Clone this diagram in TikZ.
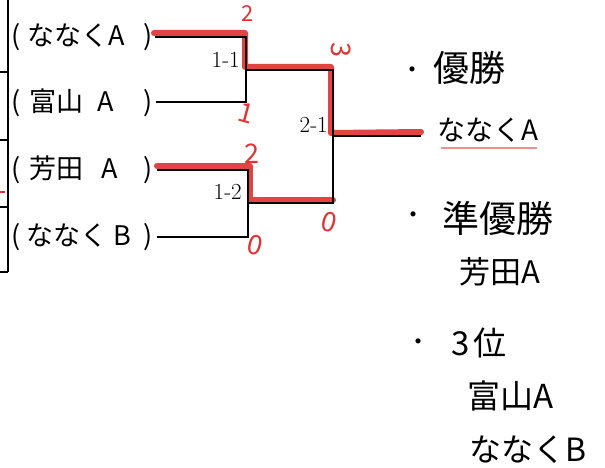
\documentclass[tikz,border=0pt]{standalone}
\usepackage{fontspec}
\newfontfamily\jp{Noto Sans CJK JP}
\definecolor{penred}{RGB}{224,52,52}
\begin{document}
\begin{tikzpicture}[x=1pt,y=-1pt,
  bline/.style={line width=2.8pt,black,line cap=butt},
  rline/.style={line width=6pt,penred,line join=round,line cap=round,opacity=.92},
  rowlab/.style={font=\jp\fontsize{27}{27}\selectfont,inner sep=0pt,anchor=west},
  hand/.style={font=\jp\fontsize{#1}{#1}\selectfont,inner sep=0pt,anchor=west},
  score/.style={font=\jp\fontsize{27}{27}\selectfont,text=penred,inner sep=0pt},
  matchlab/.style={font=\fontsize{23}{23}\selectfont,inner sep=0pt,anchor=east},
  dotlab/.style={font=\jp\fontsize{24}{24}\selectfont,inner sep=0pt}]
\useasboundingbox (0,0) rectangle (605,468);
% left table remnant
\coordinate (tl) at (8,0);
\coordinate (tb) at (8,272);
\draw[line width=1.8pt] (tl) -- (tb);
\foreach \yy/\nm in {72/a,140/b,207/c,272/d}{
  \coordinate (h\nm) at (0,\yy);
  \draw[line width=1.8pt] (h\nm) -- (8,\yy);
}
\coordinate (rt) at (0,192);
\draw[penred,line width=1.5pt] (rt) -- ++(5,0);
% row labels
\node[rowlab] (t1) at (11,37) {\makebox[141pt][l]{(\hspace{7pt}ななくA\hfill)}};
\node[rowlab] (t2) at (11,103) {\makebox[141pt][l]{(\hspace{9pt}富山\hspace{14pt}A\hfill)}};
\node[rowlab] (t3) at (11,170) {\makebox[141pt][l]{(\hspace{9pt}芳田\hspace{18pt}A\hfill)}};
\node[rowlab] (t4) at (11,237) {\makebox[141pt][l]{(\hspace{6pt}ななく\hspace{6pt}B\hfill)}};
% bracket coordinates
\coordinate (r1) at (155,37);
\coordinate (r2) at (156,102);
\coordinate (r3) at (157,170);
\coordinate (r4) at (157,237);
\coordinate (m1) at (246,70);
\coordinate (m2) at (248,203);
\coordinate (f) at (333,136);
\coordinate (w) at (421,136);
% red winner paths
\draw[rline] ([xshift=-1pt,yshift=4pt]r1) -| ([xshift=-1pt,yshift=3pt]m1) -| ([xshift=-2pt,yshift=3pt]f) -- ([yshift=4pt]w);
\draw[rline] ([yshift=4pt]r3) -| ([xshift=2pt,yshift=3pt]m2) -- ([yshift=3pt]m2 -| f);
% black bracket
\draw[bline] (r1) -| (m1) |- (r2);
\draw[bline] (r3) -| (m2) |- (r4);
\draw[bline] (m1) -| (f) |- (m2);
\draw[bline] (f) -- (w);
% match labels
\node[matchlab] (l11) at (240,60) {1-1};
\node[matchlab] (l12) at (242,192) {1-2};
\node[matchlab] (l21) at (328,125) {2-1};
% scores
\node[score,font=\jp\fontsize{22}{22}\selectfont] (s1) at (248,14) {2};
\node[score,rotate=-15] (s2) at (246,113) {1};
\node[score,rotate=-90] (s3) at (341,50) {3};
\node[score] (s4) at (252,154) {2};
\node[score,rotate=-15] (s5) at (255,245) {0};
\node[score,rotate=-15] (s6) at (329,222) {0};
% results
\node[dotlab] (d1) at (412,73) {・};
\node[hand=36] (win1) at (433,68) {優勝};
\node[hand=28] (win2) at (437,130) {ななくA};
\coordinate (u1) at (441,148);
\coordinate (u2) at (537,148);
\draw[penred,opacity=.55,line width=1.3pt] (u1) -- (u2);
\node[dotlab] (d2) at (413,218) {・};
\node[hand=37] (sec1) at (442,218) {準優勝};
\node[hand=31] (sec2) at (459,272) {芳田A};
\node[dotlab] (d3) at (418,345) {・};
\node[hand=33] (thr1) at (451,343) {3\hspace{4pt}位};
\node[hand=33] (thr2) at (467,396) {富山A};
\node[hand=32] (thr3) at (469,450) {ななくB};
\end{tikzpicture}
\end{document}
